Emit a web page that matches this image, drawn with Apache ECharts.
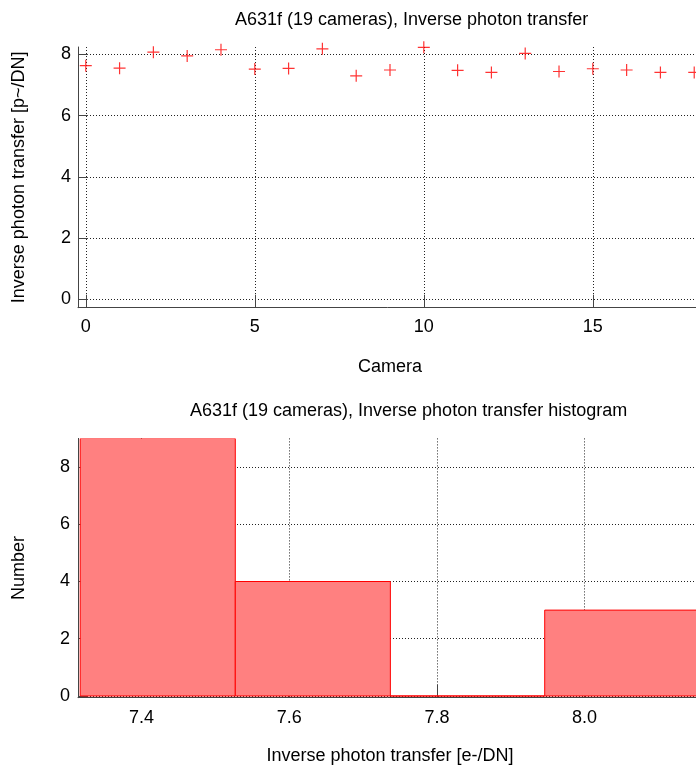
<!DOCTYPE html>
<html>
<head>
<meta charset="utf-8">
<script src="https://cdn.jsdelivr.net/npm/echarts@6/dist/echarts.min.js"></script>
<style>html,body{margin:0;padding:0;background:#fff}#c{width:696px;height:769px}</style>
</head>
<body>
<div id="c"></div>
<script>
// ---- data ----
const cameras = [0,1,2,3,4,5,6,7,8,9,10,11,12,13,14,15,16,17,18];
const inversePhotonTransfer = [7.63,7.55,8.07,7.95,8.15,7.52,7.54,8.18,7.30,7.49,8.23,7.48,7.41,8.03,7.44,7.53,7.49,7.41,7.41];
const cameraTicks = [0,5,10,15];
const transferTicks = [0,2,4,6,8];
const binLeft  = [7.317,7.527,7.737,7.946,8.156];
const binRight = [7.527,7.737,7.946,8.156,8.366];
const binCounts = [9,4,0,3,3];
const histXTicks = [7.4,7.6,7.8,8.0];
const histYTicks = [0,2,4,6,8];

const FONT = "'Liberation Sans', Arial, sans-serif";
const AX = '#444';
const GRID = '#222';

const scatterData = cameras.map((c,i)=>[c, inversePhotonTransfer[i]]);
const histData = binLeft.map((l,i)=>[l, binRight[i], binCounts[i]]);

const plus = 'path://M0,4.5L10,4.5L10,5.5L0,5.5ZM4.5,0L5.5,0L5.5,10L4.5,10Z';

function axisCommon(ticks, len, fmt, margin) {
  return {
    axisLine: {show: true, onZero: false, lineStyle: {color: AX, width: 1}},
    axisTick: {show: true, inside: true, length: len, customValues: ticks, lineStyle: {color: AX}},
    axisLabel: {customValues: ticks, color: '#000', fontSize: 18, fontFamily: FONT, margin: margin, formatter: fmt},
    splitLine: {show: true, lineStyle: {color: GRID, type: [1,2], width: 1}},
    nameTextStyle: {color: '#000', fontSize: 18, fontFamily: FONT},
    nameLocation: 'middle'
  };
}

const chart = echarts.init(document.getElementById('c'), null, {renderer: 'canvas'});
chart.setOption({
  animation: false,
  backgroundColor: '#fff',
  title: [
    {text: 'A631f (19 cameras), Inverse photon transfer', left: 230, top: 6,
     textStyle: {fontSize: 18, fontWeight: 'normal', color: '#000', fontFamily: FONT}},
    {text: 'A631f (19 cameras), Inverse photon transfer histogram', left: 185, top: 397,
     textStyle: {fontSize: 18, fontWeight: 'normal', color: '#000', fontFamily: FONT}}
  ],
  grid: [
    {left: 78, top: 47, width: 624, height: 260.7, outerBoundsMode: 'none', containLabel: false},
    {left: 78, top: 438.4, width: 624, height: 259.3, outerBoundsMode: 'none', containLabel: false}
  ],
  xAxis: [
    Object.assign(axisCommon(cameraTicks, 13, v => String(v), 10), {
      type: 'value', gridIndex: 0, min: -0.23, max: 18.23,
      name: 'Camera', nameGap: 50
    }),
    Object.assign(axisCommon(histXTicks, 13, v => v.toFixed(1), 11), {
      type: 'value', gridIndex: 1, min: 7.314, max: 8.159,
      name: 'Inverse photon transfer [e-/DN]', nameGap: 49
    })
  ],
  yAxis: [
    Object.assign(axisCommon(transferTicks, 10, v => String(v), 7), {
      type: 'value', gridIndex: 0, min: -0.27, max: 8.24,
      name: 'Inverse photon transfer [p~/DN]', nameGap: 50
    }),
    Object.assign(axisCommon(histYTicks, 10, v => String(v), 8), {
      type: 'value', gridIndex: 1, min: -0.06, max: 9,
      name: 'Number', nameGap: 50
    })
  ],
  series: [
    {
      type: 'scatter', xAxisIndex: 0, yAxisIndex: 0, data: scatterData,
      symbol: plus, symbolSize: 12, clip: false,
      itemStyle: {color: '#ff0000'}
    },
    {
      type: 'custom', xAxisIndex: 1, yAxisIndex: 1, data: histData, clip: true,
      encode: {x: [0,1], y: 2},
      renderItem: function (params, api) {
        const p0 = api.coord([api.value(0), api.value(2)]);
        const p1 = api.coord([api.value(1), 0]);
        return {
          type: 'rect',
          shape: {x: p0[0], y: p0[1], width: p1[0] - p0[0], height: p1[1] - p0[1]},
          style: {fill: '#ff8080', stroke: '#ff0000', lineWidth: 1}
        };
      }
    }
  ]
});
</script>
</body>
</html>
